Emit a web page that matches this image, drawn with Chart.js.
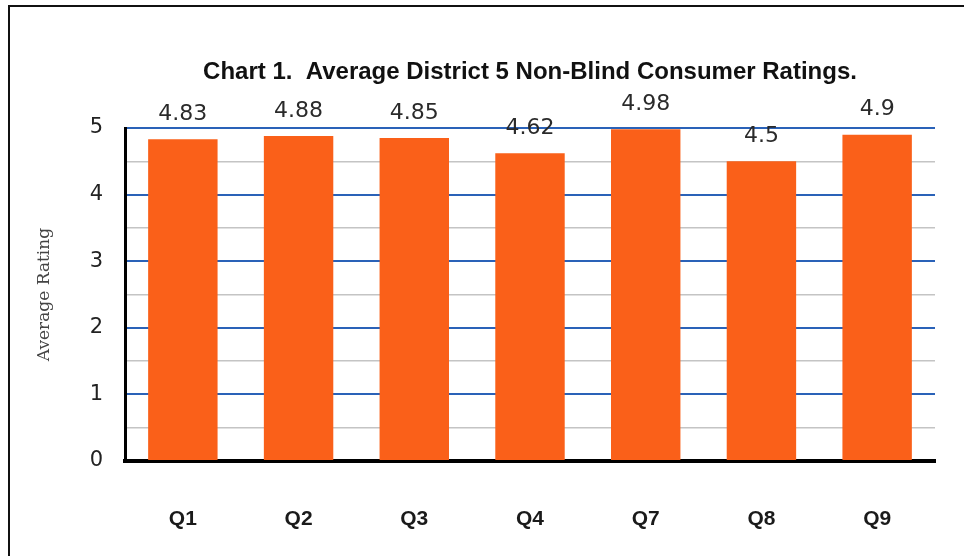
<!DOCTYPE html>
<html>
<head>
<meta charset="utf-8">
<script src="https://cdn.jsdelivr.net/npm/chart.js@4/dist/chart.umd.min.js"></script>
<style>
  html, body { margin: 0; padding: 0; background: #fff; overflow: hidden; }
  #frame {
    position: absolute; left: 8px; top: 5px;
    width: 1000px; height: 600px;
    border: 2px solid #111; box-sizing: border-box;
  }
  #wrap { position: absolute; left: 0; top: 0; width: 964px; height: 556px; }
</style>
</head>
<body>
<div id="frame"></div>
<div id="wrap"><canvas id="chart" width="964" height="556"></canvas></div>
<script>
const questions = ['Q1', 'Q2', 'Q3', 'Q4', 'Q7', 'Q8', 'Q9'];
const ratings = [4.83, 4.88, 4.85, 4.62, 4.98, 4.5, 4.9];
const ratingLabels = ['4.83', '4.88', '4.85', '4.62', '4.98', '4.5', '4.9'];
const chartTitle = 'Chart 1.  Average District 5 Non-Blind Consumer Ratings.';

const ORANGE = '#fa6019';
const GRID_BLUE = '#2a62b8';
const GRID_GREY = '#c4c4c4';

// heading centred over the plot, ratings printed above each bar
const annotations = {
  id: 'annotations',
  afterDatasetsDraw(chart) {
    const { ctx, chartArea } = chart;
    const meta = chart.getDatasetMeta(0);
    ctx.save();
    ctx.textAlign = 'center';
    ctx.textBaseline = 'middle';

    ctx.font = 'bold 24px "Liberation Sans", Arial, sans-serif';
    ctx.fillStyle = '#111';
    ctx.fillText(chartTitle, (chartArea.left + chartArea.right) / 2, 72);

    ctx.font = '22px "DejaVu Sans", sans-serif';
    ctx.fillStyle = '#2a2a2a';
    meta.data.forEach((bar, i) => {
      ctx.fillText(ratingLabels[i], bar.x, bar.y - 25);
    });
    ctx.restore();
  }
};

new Chart(document.getElementById('chart'), {
  type: 'bar',
  data: {
    labels: questions,
    datasets: [{
      data: ratings,
      backgroundColor: ORANGE,
      borderWidth: 0,
      barPercentage: 0.6,
      categoryPercentage: 1.0
    }]
  },
  options: {
    responsive: false,
    animation: false,
    layout: { padding: { left: 0, right: 29, top: 128, bottom: 0 } },
    plugins: {
      legend: { display: false },
      tooltip: { enabled: false },
      title: { display: false }
    },
    scales: {
      x: {
        grid: { display: false },
        border: { color: '#000', width: 4 },
        ticks: {
          color: '#1a1a1a',
          padding: 38,
          font: { family: '"Liberation Sans", Arial, sans-serif', size: 21, weight: 'bold' }
        },
        afterFit(scale) { scale.height = 95; }
      },
      y: {
        min: 0,
        max: 5,
        border: { color: '#000', width: 3 },
        grid: {
          drawTicks: false,
          color: (c) => (Number.isInteger(c.tick.value) ? GRID_BLUE : GRID_GREY),
          lineWidth: (c) => (Number.isInteger(c.tick.value) ? 2 : 1.5)
        },
        ticks: {
          stepSize: 0.5,
          padding: 22,
          color: '#222',
          font: { family: '"DejaVu Sans", sans-serif', size: 21 },
          callback: (v) => (Number.isInteger(v) ? v : '')
        },
        title: {
          display: true,
          text: 'Average Rating',
          color: '#444',
          font: { family: '"DejaVu Serif", serif', size: 17 },
          padding: { top: 34, bottom: 0 }
        },
        afterFit(scale) { scale.width = 125; }
      }
    }
  },
  plugins: [annotations]
});
</script>
</body>
</html>
